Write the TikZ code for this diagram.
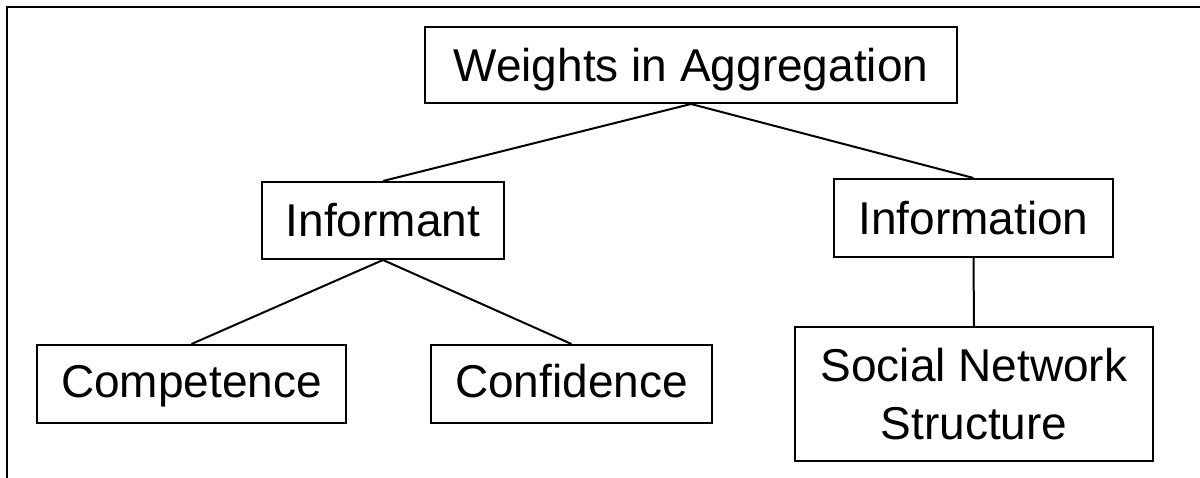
\documentclass[tikz,border=0pt]{standalone}
\usepackage{fontspec}
\setmainfont{Liberation Sans}
\begin{document}
\begin{tikzpicture}[x=1pt,y=-1pt,
  box/.style={draw, line width=2pt, inner sep=0pt, align=center, font=\fontsize{46}{58}\selectfont},
  oneline/.style={text height=33pt, text depth=#1},
  conn/.style={line width=2pt},
  frameline/.style={line width=2pt, line join=miter}]
\useasboundingbox (0,0) rectangle (1200,478);
\coordinate (fbot) at (7,478);
\coordinate (fcorner) at (7,7);
\coordinate (fright) at (1200,7);
\draw[frameline] (fbot) -- (fcorner) -- (fright);
\node[box, oneline=-2pt, minimum width=532pt, minimum height=76pt] (w) at (691,65) {Weights in Aggregation};
\node[box, oneline=0pt, minimum width=242pt, minimum height=77pt] (inf) at (383,220.5) {Informant};
\node[box, oneline=-3pt, minimum width=279pt, minimum height=78pt] (info) at (973.5,218) {Information};
\node[box, oneline=5pt, minimum width=309pt, minimum height=78pt] (comp) at (191.5,384) {Competence};
\node[box, oneline=6pt, minimum width=281pt, minimum height=78pt] (conf) at (571.5,384) {Confidence};
\node[box, minimum width=358pt, minimum height=134pt] (sns) at (974,394) {Social Network\\Structure};
\draw[conn] (w.south) -- (inf.north);
\draw[conn] (w.south) -- (info.north);
\draw[conn] (inf.south) -- (comp.north);
\draw[conn] (inf.south) -- (conf.north);
\draw[conn] (info.south) -- (sns.north);
\end{tikzpicture}
\end{document}
